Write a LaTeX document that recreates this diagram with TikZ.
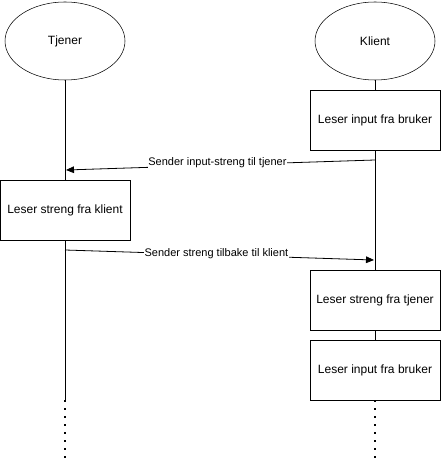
\documentclass[tikz,border=0pt]{standalone}
\usepackage{fontspec}
\setmainfont{Liberation Sans}
\usetikzlibrary{arrows.meta,shapes.geometric}

\begin{document}
\begin{tikzpicture}[x=0.75pt,y=-0.75pt,
    actor/.style={draw, ellipse, minimum width=90pt, minimum height=58.5pt, inner sep=0pt, font=\fontsize{9}{11}\selectfont},
    box/.style={draw, fill=white, minimum width=97.5pt, minimum height=45pt, inner sep=0pt, font=\fontsize{9}{11}\selectfont},
    msg/.style={-{Triangle[length=6pt,width=5pt]}, line width=0.6pt},
    lbl/.style={fill=white, inner sep=0.5pt, font=\fontsize{8.25}{10}\selectfont},
    dots/.style={line width=1.5pt, dash pattern=on 1.2pt off 4.8pt}]
  \useasboundingbox (0,0) rectangle (441,463);
  % aktorer
  \node[actor] (tjener) at (65,41) {Tjener};
  \node[actor] (klient) at (375,41) {Klient};
  % bokser
  \node[box] (inputA) at (375,120) {Leser input fra bruker};
  \node[box] (lesK) at (65,210) {Leser streng fra klient};
  \node[box] (lesT) at (375,300) {Leser streng fra tjener};
  \node[box] (inputB) at (375,370) {Leser input fra bruker};
  \coordinate (tEnd) at (65,400);
  \coordinate (tDot) at (65,462);
  \coordinate (kDot) at (375,462);
  \coordinate (m1a) at (375,160);
  \coordinate (m1b) at (66,170);
  \coordinate (m2a) at (65,250);
  \coordinate (m2b) at (374,260);
  % livslinjer
  \draw (tjener.south) -- (lesK.north);
  \draw (lesK.south) -- (tEnd);
  \draw (klient.south) -- (inputA.north);
  \draw (inputA.south) -- (lesT.north);
  \draw (lesT.south) -- (inputB.north);
  \draw[dots] (tEnd) -- (tDot);
  \draw[dots] (inputB.south) -- (kDot);
  % meldinger
  \draw[msg] (m1a) -- node[lbl, pos=0.51, yshift=2pt] {Sender input-streng til tjener} (m1b);
  \draw[msg] (m2a) -- node[lbl, pos=0.49, yshift=1pt] {Sender streng tilbake til klient} (m2b);
\end{tikzpicture}
\end{document}
